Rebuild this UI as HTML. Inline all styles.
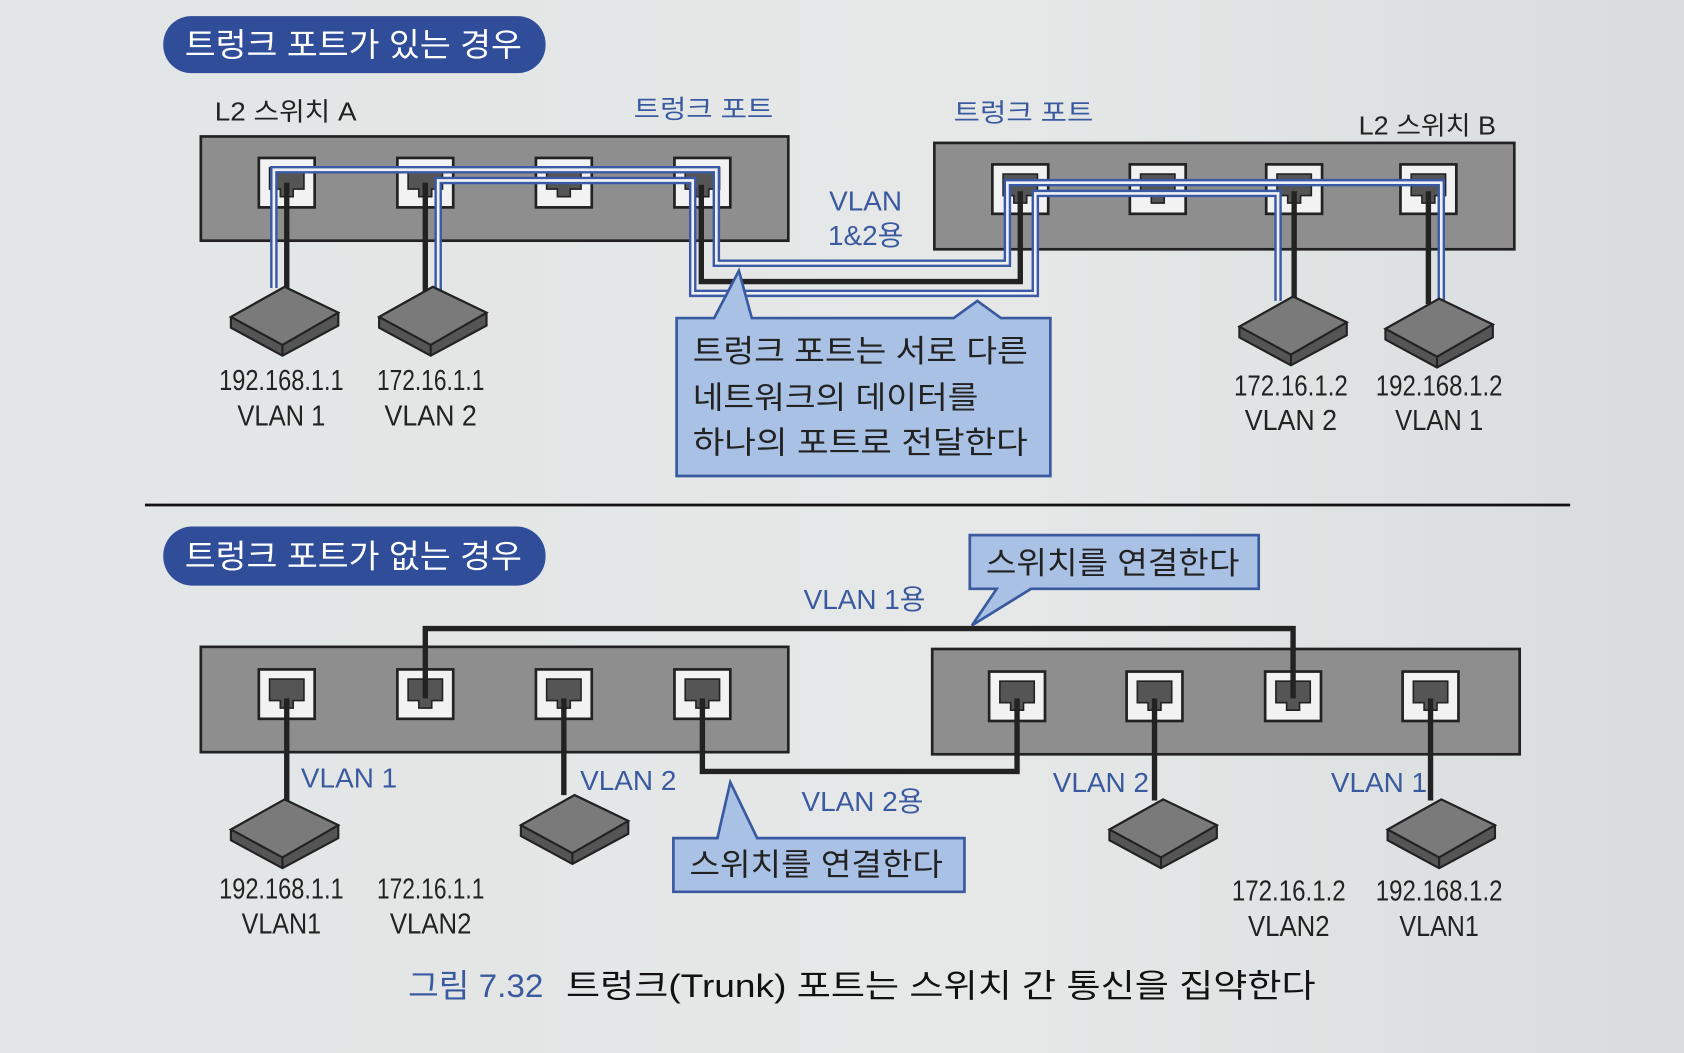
<!DOCTYPE html>
<html><head><meta charset="utf-8"><style>
html,body{margin:0;padding:0;background:#e4e6e6;}
svg{display:block}
text{font-family:"Liberation Sans","Noto Sans CJK KR",sans-serif;}
</style></head><body>
<svg width="1684" height="1053" viewBox="0 0 1568 980" preserveAspectRatio="none" xmlns="http://www.w3.org/2000/svg">
<defs>
<linearGradient id="bg" x1="0" y1="0" x2="1" y2="0">
<stop offset="0" stop-color="#e2e5e5"/><stop offset="0.6" stop-color="#e6e8e8"/><stop offset="1" stop-color="#d8dcdc"/>
</linearGradient>
<g id="port"><rect x="-26" y="-23" width="52" height="46" fill="#f2f2f2" stroke="#222" stroke-width="2.5"/><path d="M-16,-14 H16 V6 H6 V13 H-6 V6 H-16 Z" fill="#555" stroke="#222" stroke-width="1.5"/></g>
<g id="host"><path d="M-50,30 L0,2 L50,26 L50,38 L-2,66 L-50,40 Z" fill="#555" stroke="#222" stroke-width="2"/><path d="M-50,30 L0,2 L50,26 L-2,56 Z" fill="#7a7a7a" stroke="#222" stroke-width="2"/><path d="M-2,56 L-2,66" stroke="#222" stroke-width="2"/></g>
</defs>
<rect width="1568" height="980" fill="url(#bg)"/>

<!-- TOP -->
<rect x="152" y="15" width="356" height="53" rx="26" fill="#2f4d98"/>
<text x="172" y="52" font-size="30" fill="#fff" textLength="314" lengthAdjust="spacingAndGlyphs">트렁크 포트가 있는 경우</text>
<text x="200" y="112" font-size="24" fill="#222" textLength="132" lengthAdjust="spacingAndGlyphs">L2 스위치 A</text>
<text x="590" y="110" font-size="24" fill="#3a5aa0" textLength="130" lengthAdjust="spacingAndGlyphs">트렁크 포트</text>
<text x="888" y="113" font-size="24" fill="#3a5aa0" textLength="130" lengthAdjust="spacingAndGlyphs">트렁크 포트</text>
<text x="1265" y="125" font-size="24" fill="#222" textLength="128" lengthAdjust="spacingAndGlyphs">L2 스위치 B</text>

<rect x="187" y="127" width="547" height="97" fill="#8e8e8e" stroke="#222" stroke-width="2.5"/>
<rect x="870" y="133" width="540" height="99" fill="#8e8e8e" stroke="#222" stroke-width="2.5"/>
<use href="#port" x="267" y="170"/><use href="#port" x="396" y="170"/><use href="#port" x="525" y="170"/><use href="#port" x="654" y="170"/>
<use href="#port" x="950" y="176"/><use href="#port" x="1078" y="176"/><use href="#port" x="1205" y="176"/><use href="#port" x="1330" y="176"/>

<text x="806" y="196" font-size="26" fill="#3a5aa0" text-anchor="middle">VLAN</text>
<text x="806" y="228" font-size="26" fill="#3a5aa0" text-anchor="middle">1&amp;2용</text>

<g fill="none" stroke="#222" stroke-width="5">
<path d="M267,170 V268"/><path d="M396,170 V272"/>
<path d="M653,172 V262 H950 V178"/>
<path d="M1205,178 V280"/><path d="M1330,178 V283"/>
</g>
<g fill="none" stroke="#3b5aa6" stroke-width="7">
<path d="M255,268 V158 H667 V245 H938 V170 H1342 V283"/>
<path d="M408,272 V168 H645 V273 H964 V180 H1190 V280"/>
</g>
<g fill="none" stroke="#eef0f4" stroke-width="2.5">
<path d="M255,268 V158 H667 V245 H938 V170 H1342 V283"/>
<path d="M408,272 V168 H645 V273 H964 V180 H1190 V280"/>
</g>

<use href="#host" x="265" y="265"/><use href="#host" x="403" y="265"/>
<use href="#host" x="1204" y="274"/><use href="#host" x="1340" y="276"/>

<g font-size="27" fill="#222" text-anchor="middle" lengthAdjust="spacingAndGlyphs">
<text x="262" y="363" textLength="116" lengthAdjust="spacingAndGlyphs">192.168.1.1</text><text x="262" y="396" textLength="82" lengthAdjust="spacingAndGlyphs">VLAN 1</text>
<text x="401" y="363" textLength="100" lengthAdjust="spacingAndGlyphs">172.16.1.1</text><text x="401" y="396" textLength="86" lengthAdjust="spacingAndGlyphs">VLAN 2</text>
<text x="1202" y="368" textLength="106" lengthAdjust="spacingAndGlyphs">172.16.1.2</text><text x="1202" y="400" textLength="86" lengthAdjust="spacingAndGlyphs">VLAN 2</text>
<text x="1340" y="368" textLength="118" lengthAdjust="spacingAndGlyphs">192.168.1.2</text><text x="1340" y="400" textLength="82" lengthAdjust="spacingAndGlyphs">VLAN 1</text>
</g>

<path d="M630,296 H665 L688,252 L700,296 H888 L910,280 L932,296 H978 V443 H630 Z" fill="#a9c1e4" stroke="#3a5aa0" stroke-width="2.5"/>
<g font-size="29" fill="#222"><text x="645" y="337" textLength="312" lengthAdjust="spacingAndGlyphs">트렁크 포트는 서로 다른</text><text x="645" y="380" textLength="266" lengthAdjust="spacingAndGlyphs">네트워크의 데이터를</text><text x="645" y="422" textLength="312" lengthAdjust="spacingAndGlyphs">하나의 포트로 전달한다</text></g>

<line x1="135" y1="470" x2="1462" y2="470" stroke="#111" stroke-width="2.5"/>

<!-- BOTTOM -->
<rect x="152" y="490" width="356" height="55" rx="27" fill="#2f4d98"/>
<text x="172" y="528" font-size="30" fill="#fff" textLength="314" lengthAdjust="spacingAndGlyphs">트렁크 포트가 없는 경우</text>

<path d="M903,498 H1172 V548 H960 L905,582 L928,548 H903 Z" fill="#a9c1e4" stroke="#3a5aa0" stroke-width="2.5"/>
<text x="918" y="534" font-size="29" fill="#222" textLength="236" lengthAdjust="spacingAndGlyphs">스위치를 연결한다</text>
<text x="805" y="567" font-size="26" fill="#3a5aa0" text-anchor="middle">VLAN 1용</text>

<rect x="187" y="602" width="547" height="98" fill="#8e8e8e" stroke="#222" stroke-width="2.5"/>
<rect x="868" y="604" width="547" height="98" fill="#8e8e8e" stroke="#222" stroke-width="2.5"/>
<use href="#port" x="267" y="646"/><use href="#port" x="396" y="646"/><use href="#port" x="525" y="646"/><use href="#port" x="654" y="646"/>
<use href="#port" x="947" y="648"/><use href="#port" x="1075" y="648"/><use href="#port" x="1204" y="648"/><use href="#port" x="1332" y="648"/>

<g fill="none" stroke="#222" stroke-width="5">
<path d="M396,650 V585 H1204 V650"/>
<path d="M654,650 V718 H947 V650"/>
<path d="M267,650 V745"/><path d="M525,650 V740"/><path d="M1075,650 V745"/><path d="M1332,650 V745"/>
</g>
<use href="#host" x="265" y="742"/><use href="#host" x="535" y="738"/>
<use href="#host" x="1083" y="742"/><use href="#host" x="1342" y="742"/>

<g font-size="26" fill="#3a5aa0" text-anchor="middle">
<text x="325" y="733">VLAN 1</text><text x="585" y="735">VLAN 2</text>
<text x="1025" y="737">VLAN 2</text><text x="1284" y="737">VLAN 1</text>
<text x="803" y="755">VLAN 2용</text>
</g>

<path d="M627,780 H668 L680,728 L705,780 H898 V830 H627 Z" fill="#a9c1e4" stroke="#3a5aa0" stroke-width="2.5"/>
<text x="642" y="815" font-size="29" fill="#222" textLength="236" lengthAdjust="spacingAndGlyphs">스위치를 연결한다</text>

<g font-size="27" fill="#222" text-anchor="middle">
<text x="262" y="836" textLength="116" lengthAdjust="spacingAndGlyphs">192.168.1.1</text><text x="262" y="869" textLength="74" lengthAdjust="spacingAndGlyphs">VLAN1</text>
<text x="401" y="836" textLength="100" lengthAdjust="spacingAndGlyphs">172.16.1.1</text><text x="401" y="869" textLength="76" lengthAdjust="spacingAndGlyphs">VLAN2</text>
<text x="1200" y="838" textLength="106" lengthAdjust="spacingAndGlyphs">172.16.1.2</text><text x="1200" y="871" textLength="76" lengthAdjust="spacingAndGlyphs">VLAN2</text>
<text x="1340" y="838" textLength="118" lengthAdjust="spacingAndGlyphs">192.168.1.2</text><text x="1340" y="871" textLength="74" lengthAdjust="spacingAndGlyphs">VLAN1</text>
</g>

<text x="380" y="928" font-size="30" fill="#3a5aa0" textLength="126" lengthAdjust="spacingAndGlyphs">그림 7.32</text>
<text x="527" y="928" font-size="30" fill="#111" textLength="698" lengthAdjust="spacingAndGlyphs">트렁크(Trunk) 포트는 스위치 간 통신을 집약한다</text>
</svg>
</body></html>
